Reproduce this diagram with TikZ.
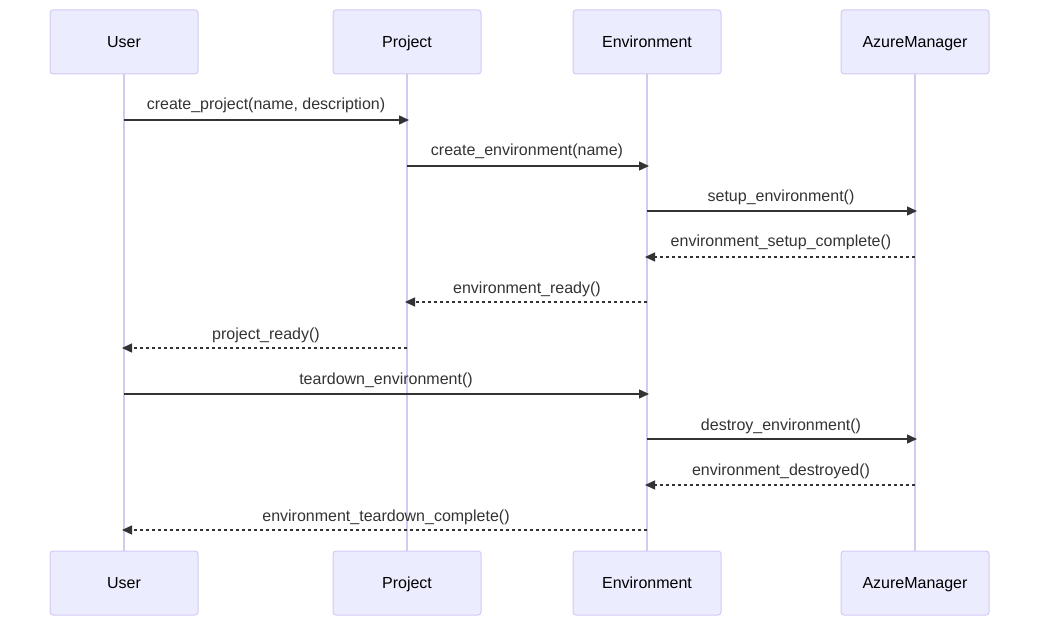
\documentclass[tikz,border=0pt]{standalone}
\usepackage{fontspec}
\setmainfont{Liberation Sans}
\usetikzlibrary{arrows.meta}
\definecolor{actfill}{HTML}{ECECFF}
\definecolor{actline}{HTML}{D4C9F3}
\definecolor{txt}{HTML}{333333}
\begin{document}
\begin{tikzpicture}[x=1pt,y=-1pt,
  actor/.style={draw=actline,fill=actfill,line width=1pt,rounded corners=3pt,
    minimum width=148pt,minimum height=64pt,inner sep=0pt,
    text height=13.5pt,text depth=2pt,
    font=\fontsize{16}{19}\selectfont,text=black},
  life/.style={draw=actline,line width=1.5pt},
  msg/.style={draw=txt,line width=1.4pt,-{Triangle[length=10pt,width=9pt]}},
  ret/.style={msg,dash pattern=on 3pt off 3pt},
  lab/.style={font=\fontsize{16}{19}\selectfont,text=txt,inner sep=0pt,anchor=base}]
\useasboundingbox (0,0) rectangle (1047,631);
% lifelines
\foreach \n/\x in {u/124,p/407,e/647,a/915}{
  \coordinate (\n t) at (\x,74);
  \coordinate (\n b) at (\x,551);
}
\draw[life] (ut) -- (ub);
\draw[life] (pt) -- (pb);
\draw[life] (et) -- (eb);
\draw[life] (at) -- (ab);
% actors
\node[actor] (U1) at (124,42) {User};
\node[actor] (P1) at (407,42) {Project};
\node[actor] (E1) at (647,42) {Environment};
\node[actor] (A1) at (915,42) {AzureManager};
\node[actor] (U2) at (124,583) {User};
\node[actor] (P2) at (407,583) {Project};
\node[actor] (E2) at (647,583) {Environment};
\node[actor] (A2) at (915,583) {AzureManager};
% message endpoints
\foreach \y/\i in {120/1,166/2,211/3,257/4,302/5,348/6,394/7,439/8,485/9,530/10}{
  \coordinate (u\i) at (124,\y);
  \coordinate (p\i) at (407,\y);
  \coordinate (e\i) at (647,\y);
  \coordinate (a\i) at (915,\y);
}
\draw[msg] (u1) -- ([xshift=2pt]p1);
\node[lab] at (266,110) {create\_project(name, description)};
\draw[msg] (p2) -- ([xshift=2pt]e2);
\node[lab] at (527,156) {create\_environment(name)};
\draw[msg] (e3) -- ([xshift=2pt]a3);
\node[lab] at (781,202) {setup\_environment()};
\draw[ret] (a4) -- ([xshift=-2pt]e4);
\node[lab] at (781,247) {environment\_setup\_complete()};
\draw[ret] (e5) -- ([xshift=-2pt]p5);
\node[lab] at (527,293) {environment\_ready()};
\draw[ret] (p6) -- ([xshift=-2pt]u6);
\node[lab] at (266,339) {project\_ready()};
\draw[msg] (u7) -- ([xshift=2pt]e7);
\node[lab] at (386,384) {teardown\_environment()};
\draw[msg] (e8) -- ([xshift=2pt]a8);
\node[lab] at (781,430) {destroy\_environment()};
\draw[ret] (a9) -- ([xshift=-2pt]e9);
\node[lab] at (781,475) {environment\_destroyed()};
\draw[ret] (e10) -- ([xshift=-2pt]u10);
\node[lab] at (386,521) {environment\_teardown\_complete()};
\end{tikzpicture}
\end{document}
